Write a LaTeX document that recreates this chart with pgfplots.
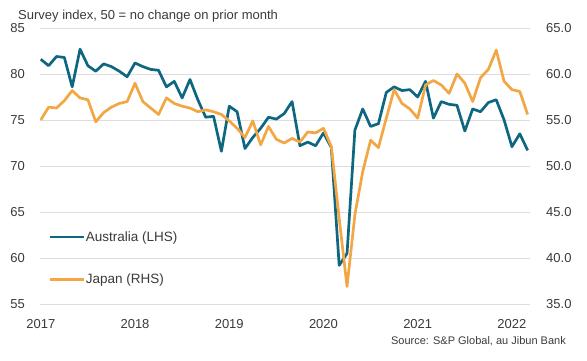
\documentclass[border=0pt]{standalone}
\usepackage{pgfplots}
\usepackage{pgfplotstable}
\pgfplotsset{compat=1.18}
\usepackage{fontspec}
\setmainfont{Liberation Sans}
\definecolor{aus}{HTML}{0D6780}
\definecolor{jpn}{HTML}{F2A744}
\definecolor{gridc}{HTML}{DEDEDE}
\definecolor{txt}{HTML}{3A3A3A}

\pgfplotstableread{
m aus jpn
0 81.6 55.0
1 80.9 56.4
2 81.9 56.3
3 81.8 57.1
4 78.6 58.2
5 82.7 57.4
6 80.9 57.2
7 80.3 54.8
8 81.1 55.8
9 80.8 56.4
10 80.3 56.8
11 79.7 57.0
12 81.2 59.0
13 80.8 57.0
14 80.5 56.3
15 80.4 55.6
16 78.6 57.4
17 79.2 56.8
18 77.4 56.5
19 79.4 56.3
20 77.2 55.9
21 75.3 56.1
22 75.4 55.9
23 71.6 55.6
24 76.5 54.9
25 75.9 54.1
26 71.9 53.1
27 73.1 54.9
28 74.1 52.3
29 75.3 54.3
30 75.1 52.9
31 75.7 52.5
32 77.0 53.0
33 72.2 52.6
34 72.6 53.7
35 72.2 53.6
36 73.6 54.1
37 72.0 52.1
38 59.2 44.3
39 60.5 36.9
40 73.9 44.7
41 76.2 49.4
42 74.3 52.8
43 74.6 52.0
44 78.0 55.2
45 78.6 58.3
46 78.2 56.8
47 78.3 56.2
48 77.5 55.2
49 79.2 58.8
50 75.2 59.3
51 77.0 58.8
52 76.7 57.9
53 76.6 60.0
54 73.8 59.0
55 76.2 57.0
56 75.9 59.6
57 76.9 60.5
58 77.2 62.6
59 75.0 59.2
60 72.1 58.3
61 73.5 58.1
62 71.7 55.6
}\data

\pgfplotsset{
  base/.style={
    scale only axis, width=490pt, height=276pt,
    at={(40pt,57pt)}, anchor=south west,
    xmin=-0.1, xmax=62.3,
    axis line style={draw=none},
    major tick style={draw=none}, minor tick style={draw=none},
    tick label style={font=\fontsize{13}{15}\selectfont, text=txt, inner sep=0pt},
  }
}

\begin{document}
\begin{tikzpicture}
\useasboundingbox (0,0) rectangle (587pt,361pt);
\begin{axis}[base,
  ymin=55, ymax=85,
  ytick={55,60,65,70,75,80,85},
  yticklabels={55,60,65,70,75,80,85},
  yticklabel style={anchor=east, xshift=-15pt},
  ymajorgrids, grid style={gridc, line width=0.9pt},
  xtick={0,12,24,36,48,60},
  xticklabels={2017,2018,2019,2020,2021,2022},
  xticklabel style={anchor=north, yshift=-15pt},
]
\addplot[aus, line width=2.7pt, line join=round] table[x=m, y=aus] {\data};
\end{axis}
\begin{axis}[base,
  ymin=35, ymax=65,
  ytick={35,40,45,50,55,60,65},
  yticklabels={35.0,40.0,45.0,50.0,55.0,60.0,65.0},
  yticklabel pos=right,
  yticklabel style={anchor=west, xshift=16pt},
  xtick=\empty,
  legend cell align=left,
  legend image code/.code={\draw[#1] (0pt,0pt) -- (34pt,0pt);},
  legend style={draw=none, fill=none, inner sep=0pt, row sep=31pt,
    at={(8pt,19pt)}, anchor=south west,
    font=\fontsize{13.5}{15}\selectfont, text=txt,
    nodes={inner sep=0pt}, column sep=1pt},
]
\addlegendimage{aus, line width=2.7pt}
\addlegendentry{Australia (LHS)}
\addplot[jpn, line width=2.7pt, line join=round] table[x=m, y=jpn] {\data};
\addlegendentry{Japan (RHS)}
\end{axis}
\node[anchor=west, inner sep=0pt, text=txt, font=\fontsize{13}{15}\selectfont] at (18pt,345pt) {Survey index, 50 = no change on prior month};
\node[anchor=east, inner sep=0pt, text=txt, font=\fontsize{11}{13}\selectfont] at (566pt,20pt) {Source: S\&P Global, au Jibun Bank};
\end{tikzpicture}
\end{document}
